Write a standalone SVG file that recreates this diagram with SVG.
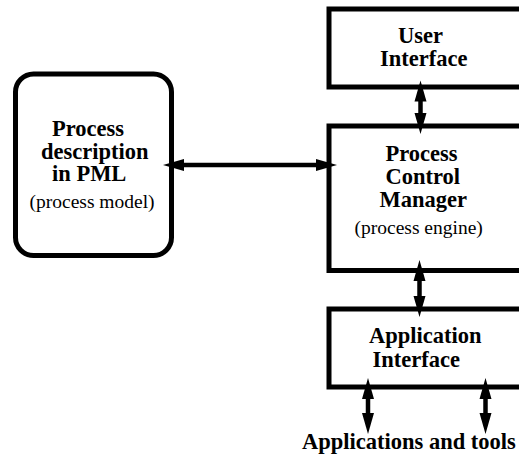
<svg xmlns="http://www.w3.org/2000/svg" width="519" height="454" viewBox="0 0 519 454">
  <style>
    .box { fill: #fff; stroke: #000; stroke-width: 5; }
    .title { font-family: "Liberation Serif", "Times New Roman", serif; font-weight: bold; font-size: 22.5px; fill: #000; }
    .note { font-family: "Liberation Serif", "Times New Roman", serif; font-size: 19.5px; fill: #000; }
    .link { stroke: #000; stroke-width: 4.5; fill: none; marker-start: url(#head); marker-end: url(#head); }
  </style>
  <defs>
    <!-- tip sits 10px beyond the end of the shortened shaft -->
    <marker id="head" markerUnits="userSpaceOnUse" orient="auto-start-reverse" refX="0" refY="0" markerWidth="40" markerHeight="20" overflow="visible">
      <path d="M10,0 L-11,-6 L-11,6 Z" fill="#000"/>
    </marker>
  </defs>

  <rect width="519" height="454" fill="#fff"/>

  <g id="process-description">
    <rect class="box" x="15.5" y="74" width="156" height="181.5" rx="18" ry="18"/>
    <text class="title" x="52" y="136">Process</text>
    <text class="title" x="41" y="158.5">description</text>
    <text class="title" x="52" y="181">in PML</text>
    <text class="note" x="29.5" y="208">(process model)</text>
  </g>

  <g id="user-interface">
    <rect class="box" x="329" y="9" width="220" height="78"/>
    <text class="title" x="398" y="43">User</text>
    <text class="title" x="380" y="66">Interface</text>
  </g>

  <g id="process-control-manager">
    <rect class="box" x="329" y="126" width="220" height="144.5"/>
    <text class="title" x="385.5" y="160.5">Process</text>
    <text class="title" x="385.5" y="184">Control</text>
    <text class="title" x="379.5" y="206.5">Manager</text>
    <text class="note" x="354.5" y="234">(process engine)</text>
  </g>

  <g id="application-interface">
    <rect class="box" x="329" y="309" width="220" height="78"/>
    <text class="title" x="369" y="343">Application</text>
    <text class="title" x="372.5" y="366.5">Interface</text>
  </g>

  <g id="applications-and-tools">
    <text class="title" x="302" y="449">Applications and tools</text>
  </g>

  <g id="connectors">
    <line class="link" x1="173" y1="165" x2="327" y2="165"/>
    <line class="link" x1="420.5" y1="90.5" x2="420.5" y2="124"/>
    <line class="link" x1="419.5" y1="270" x2="419.5" y2="307"/>
    <line class="link" x1="368" y1="388" x2="368" y2="424"/>
    <line class="link" x1="485.5" y1="388" x2="485.5" y2="424"/>
  </g>
</svg>
